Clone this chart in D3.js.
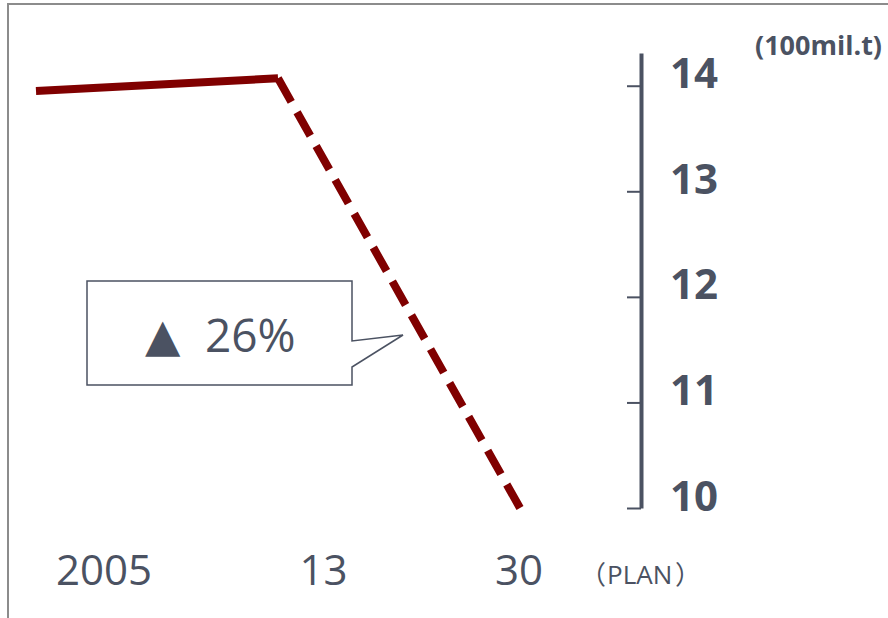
<!DOCTYPE html>
<html>
<head>
<meta charset="utf-8">
<script src="https://cdn.jsdelivr.net/npm/d3@7/dist/d3.min.js"></script>
<style>
  html, body { margin: 0; padding: 0; background: #ffffff; }
  svg { display: block; }
</style>
</head>
<body>
<svg id="chart" width="888" height="618"></svg>
<script>
// ---- data ----
const categories = ["2005", "13", "30"];
const values = [13.95, 14.07, 10.0];
const yTicks = [10, 11, 12, 13, 14];
const unitLabel = "(100mil.t)";
const planParts = ["（", "PLAN", "）"];
const calloutSymbol = "▲";
const calloutText = "26%";

const textColor = "#4b5262";
const lineColor = "#800000";

const svg = d3.select("#chart");

// frame (top + left borders)
svg.append("path")
  .attr("d", "M8,618 V4 H888")
  .attr("fill", "none")
  .attr("stroke", "#8c8c8c")
  .attr("stroke-width", 2);

// scales
const x = d3.scalePoint().domain(categories).range([36, 520]);
const xLabel = d3.scalePoint().domain(categories).range([152, 543]);
const y = d3.scaleLinear().domain([10, 14.31]).range([508, 53]);

// y axis
const axisG = svg.append("g").attr("transform", "translate(641,0)");
axisG.call(d3.axisLeft(y).tickValues(yTicks).tickSize(14).tickSizeOuter(0).tickFormat(d3.format("d")));
axisG.select(".domain").attr("stroke", textColor).attr("stroke-width", 4);
axisG.selectAll(".tick line").attr("stroke", textColor).attr("stroke-width", 2);
axisG.selectAll(".tick text")
  .attr("x", 29)
  .attr("y", 0)
  .attr("dy", "0.05em")
  .attr("text-anchor", "start")
  .attr("fill", textColor)
  .attr("font-family", "'Open Sans', sans-serif")
  .attr("font-weight", 700)
  .attr("font-size", 42);

// unit label
svg.append("text")
  .attr("x", 755).attr("y", 55)
  .attr("fill", textColor)
  .attr("font-family", "'Open Sans', sans-serif")
  .attr("font-weight", 700)
  .attr("font-size", 27)
  .text(unitLabel);

// x labels
svg.append("g").selectAll("text")
  .data(categories)
  .join("text")
  .attr("x", d => xLabel(d))
  .attr("y", 585)
  .attr("text-anchor", "end")
  .attr("fill", textColor)
  .attr("font-family", "'Open Sans', sans-serif")
  .attr("font-size", 42)
  .text(d => d);

const plan = svg.append("text")
  .attr("y", 584)
  .attr("fill", textColor)
  .attr("font-size", 26);
plan.append("tspan").attr("x", 580).attr("font-family", "'Noto Sans CJK JP', 'DejaVu Sans', sans-serif").text(planParts[0]);
plan.append("tspan").attr("x", 607).attr("font-family", "'Open Sans', sans-serif").text(planParts[1]);
plan.append("tspan").attr("x", 675).attr("font-family", "'Noto Sans CJK JP', 'DejaVu Sans', sans-serif").text(planParts[2]);

// line: solid actual part, dashed plan part
const pts = categories.map((c, i) => [x(c), y(values[i])]);
const lineGen = d3.line();
svg.append("path")
  .attr("d", lineGen(pts.slice(0, 2)))
  .attr("fill", "none")
  .attr("stroke", lineColor)
  .attr("stroke-width", 8);
const dashed = svg.append("path")
  .attr("d", lineGen(pts.slice(1, 3)))
  .attr("fill", "none")
  .attr("stroke", lineColor)
  .attr("stroke-width", 8);
const L = dashed.node().getTotalLength();
const dash = 27, nGaps = 12;
const gap = (L - (nGaps + 1) * dash) / nGaps;
dashed.attr("stroke-dasharray", `${dash} ${gap}`);

// callout
svg.append("path")
  .attr("d", "M87,281 H352 V341 L403,335 L352,367 V385 H87 Z")
  .attr("fill", "#ffffff")
  .attr("stroke", textColor)
  .attr("stroke-width", 1.5);

svg.append("text")
  .attr("x", 145).attr("y", 351)
  .attr("fill", textColor)
  .attr("font-family", "'DejaVu Sans', sans-serif")
  .attr("font-size", 46)
  .text(calloutSymbol);

svg.append("text")
  .attr("x", 205).attr("y", 352)
  .attr("fill", textColor)
  .attr("font-family", "'Open Sans', sans-serif")
  .attr("font-size", 46)
  .text(calloutText);
</script>
</body>
</html>
